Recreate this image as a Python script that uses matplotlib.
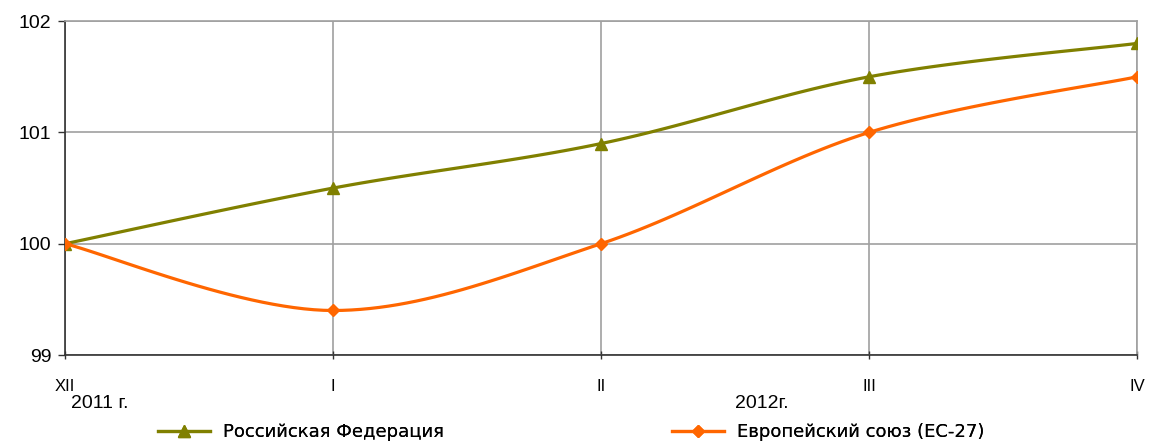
import numpy as np
import matplotlib
matplotlib.use("Agg")
import matplotlib.pyplot as plt
from matplotlib.lines import Line2D

months = ["XII", "I", "II", "III", "IV"]
years = ["2011 г.", "2012г."]
russia = [100.0, 100.5, 100.9, 101.5, 101.8]
eu = [100.0, 99.4, 100.0, 101.0, 101.5]
names = ["Российская Федерация", "Европейский союз (ЕС-27)"]

OLIVE = "#808000"
ORANGE = "#FF6600"


def smooth(x, y, n=30):
    # Catmull-Rom style smoothing, like Excel's "smoothed line"
    x, y = np.asarray(x, float), np.asarray(y, float)
    px = np.concatenate([[x[0]], x, [x[-1]]])
    py = np.concatenate([[y[0]], y, [y[-1]]])
    xs, ys = [], []
    t = np.linspace(0, 1, n)
    for i in range(1, len(px) - 2):
        p0, p1, p2, p3 = [np.array([px[j], py[j]]) for j in (i - 1, i, i + 1, i + 2)]
        c1 = p1 + (p2 - p0) / 6
        c2 = p2 - (p3 - p1) / 6
        b = ((1 - t) ** 3)[:, None] * p1 + (3 * (1 - t) ** 2 * t)[:, None] * c1 \
            + (3 * (1 - t) * t ** 2)[:, None] * c2 + (t ** 3)[:, None] * p2
        xs.extend(b[:, 0])
        ys.extend(b[:, 1])
    return xs, ys


plt.rcParams['font.family'] = ['Liberation Sans', 'DejaVu Sans']

fig = plt.figure(figsize=(11.51, 4.41), dpi=100)
ax = fig.add_axes([0.0565, 0.195, 0.9313, 0.757])

x = np.arange(len(months))
sx, sy = smooth(x, russia)
ax.plot(sx, sy, color=OLIVE, linewidth=2.3, zorder=3)
ax.plot(x, russia, linestyle="none", marker="^", markersize=9, color=OLIVE, zorder=4)
sx, sy = smooth(x, eu)
ax.plot(sx, sy, color=ORANGE, linewidth=2.3, zorder=3)
ax.plot(x, eu, linestyle="none", marker="D", markersize=6, color=ORANGE, zorder=4)

ax.set_xlim(0, len(months) - 1)
ax.set_ylim(99, 102)
ax.set_yticks([99, 100, 101, 102])
ax.set_xticks(x)
ax.set_xticklabels(months, fontsize=12)
ax.tick_params(axis='y', labelsize=14, length=5, width=1, color="#333333", pad=5)
ax.tick_params(axis='x', length=6, width=1, color="#333333", direction="inout", pad=14)
ax.grid(True, color="#a0a0a0", linewidth=1.2)
ax.set_axisbelow(True)
for s in ("top", "right"):
    ax.spines[s].set_color("#a0a0a0")
    ax.spines[s].set_linewidth(1.2)
for s in ("left", "bottom"):
    ax.spines[s].set_color("#333333")
    ax.spines[s].set_linewidth(1.2)

fig.text(100 / 1151, 1 - 403 / 441, years[0], fontsize=14, ha="center", va="center")
fig.text(762 / 1151, 1 - 403 / 441, years[1], fontsize=14, ha="center", va="center")

handles = [
    Line2D([], [], color=OLIVE, linewidth=2.3, marker="^", markersize=9),
    Line2D([], [], color=ORANGE, linewidth=2.3, marker="D", markersize=6),
]
for h, name, x0 in zip(handles, names, (158, 672)):
    leg = fig.legend([h], [name], loc="center left",
                     bbox_to_anchor=(x0 / 1151, 1 - 432 / 441),
                     frameon=False, borderpad=0, borderaxespad=0,
                     prop={'family': 'DejaVu Sans', 'size': 13},
                     handlelength=2.9, handletextpad=0.7)
    fig.add_artist(leg)

fig.savefig("out.png", dpi=100)
